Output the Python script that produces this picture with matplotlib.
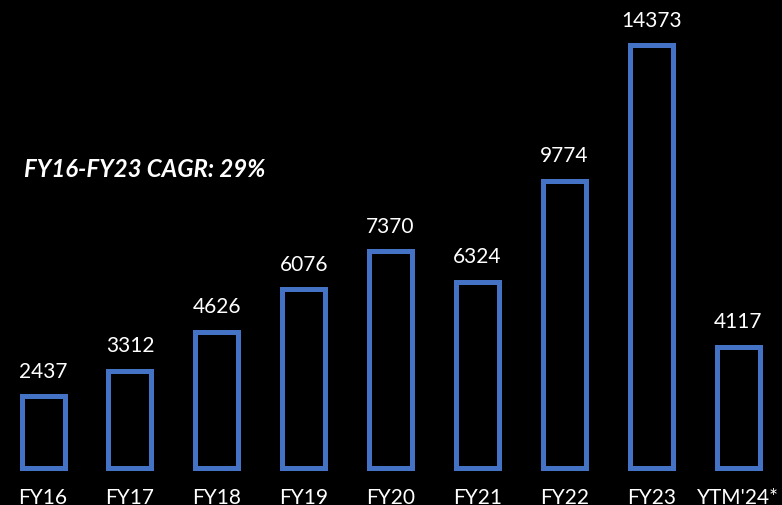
import numpy as np
import matplotlib
matplotlib.use("Agg")
import matplotlib.pyplot as plt

plt.rcParams['font.family'] = ['Lato', 'DejaVu Sans']

# chart data
categories = ["FY16", "FY17", "FY18", "FY19", "FY20", "FY21", "FY22", "FY23", "YTM'24*"]
values = [2437, 3312, 4626, 6076, 7370, 6324, 9774, 14373, 4117]
note = "FY16-FY23 CAGR: 29%"

blue = "#4472C4"

fig = plt.figure(figsize=(7.82, 5.06), dpi=100, facecolor="black")
ax = fig.add_axes([0, 0, 1, 1])
ax.set_facecolor("black")

x = np.arange(len(categories))
ax.bar(x, values, width=0.495, facecolor="none", edgecolor=blue, linewidth=3.6)

# value labels above each bar
for xi, v in zip(x, values):
    ax.annotate(str(v), (xi, v), xytext=(0, 18.5), textcoords="offset points",
                ha="center", va="center", color="white", fontsize=15)

# category labels at the bottom (slightly cut off like the original)
for xi, c in zip(x, categories):
    ax.text(xi, -990, c, ha="center", va="center", color="white", fontsize=15)

ax.text(-0.22, 10180, note, ha="left", va="center", color="white",
        fontsize=17.3, fontweight="bold", fontstyle="italic")

ax.set_xlim(-0.495, 8.504)
ax.set_ylim(-1258, 15950)
ax.axis("off")

fig.savefig("out.png", dpi=100, facecolor="black")
